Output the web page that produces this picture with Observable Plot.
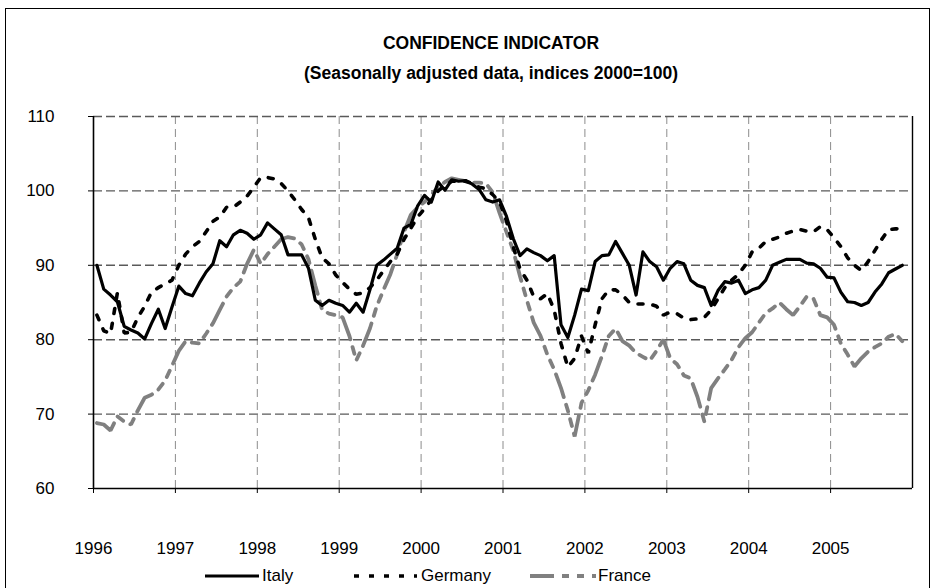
<!DOCTYPE html>
<html>
<head>
<meta charset="utf-8">
<script src="https://cdn.jsdelivr.net/npm/d3@7"></script>
<script src="https://cdn.jsdelivr.net/npm/@observablehq/plot@0.6"></script>
<style>
  html, body { margin: 0; padding: 0; background: #fff; }
  body { font-family: "Liberation Sans", Arial, sans-serif; color: #000; }
  #wrap { position: relative; width: 935px; height: 588px; overflow: hidden; }
  #border { position: absolute; left: 5px; top: 8px; width: 925px; height: 620px; border: 1px solid #000; box-sizing: border-box; }
  .title { position: absolute; left: 0; width: 982px; text-align: center; font-weight: bold; font-size: 17.5px; white-space: nowrap; }
  #t1 { top: 33px; }
  #t2 { top: 63px; }
  #chart { position: absolute; left: 0; top: 100px; }
  #legend { position: absolute; top: 566px; left: 0; width: 935px; height: 22px; font-size: 17px; }
  .lg { position: absolute; top: 0; display: flex; align-items: center; height: 20px; }
  .lg svg { display: block; }
</style>
</head>
<body>
<div id="wrap">
  <div id="border"></div>
  <div class="title" id="t1">CONFIDENCE INDICATOR</div>
  <div class="title" id="t2">(Seasonally adjusted data, indices 2000=100)</div>
  <div id="chart"></div>
  <div id="legend"></div>
</div>
<script>
// Monthly data, Jan 1996 .. Nov 2005
const startYear = 1996;
const italy = [
  90.0, 86.8, 86.0, 85.1, 81.8, 81.3, 80.9, 80.1, 82.2, 84.1, 81.5, 84.4,
  87.2, 86.2, 85.9, 87.6, 89.1, 90.2, 93.3, 92.5, 94.1, 94.7, 94.3, 93.5,
  94.1, 95.7, 94.9, 94.1, 91.4, 91.4, 91.4, 89.6, 85.3, 84.6, 85.3, 84.9,
  84.6, 83.7, 84.9, 83.7, 86.7, 90.0, 90.7, 91.5, 92.3, 95.0, 95.5, 98.0,
  99.4, 98.5, 101.2, 100.1, 101.5, 101.3, 101.4, 100.9, 100.2, 98.8, 98.5, 98.8,
  96.6, 93.6, 91.3, 92.2, 91.7, 91.3, 90.6, 91.3, 82.0, 80.3, 83.3, 86.8,
  86.6, 90.5, 91.3, 91.4, 93.2, 91.6, 90.0, 86.0, 91.8, 90.5, 89.8, 88.0,
  89.6, 90.5, 90.2, 88.0, 87.3, 87.0, 84.6, 86.6, 87.8, 87.6, 88.0, 86.2,
  86.7, 87.0, 88.0, 90.0, 90.4, 90.8, 90.8, 90.8, 90.3, 90.2, 89.6, 88.4,
  88.3, 86.4, 85.1, 85.0, 84.6, 85.0, 86.4, 87.5, 89.0, 89.5, 90.0
];
const germany = [
  83.3, 81.2, 80.8, 86.3, 80.9, 81.0, 83.0, 84.5, 86.4, 87.0, 87.5, 88.0,
  90.0, 91.5, 92.5, 93.2, 94.5, 95.9, 96.5, 97.8, 97.8, 98.5, 99.3, 100.5,
  101.8, 101.8, 101.6, 101.0, 100.0, 98.8, 97.5, 96.4, 93.5, 91.0, 90.2, 88.7,
  87.7, 86.8, 86.1, 86.3, 87.0, 88.0, 89.3, 90.5, 91.5, 93.5, 95.0, 96.5,
  97.6, 98.8, 100.0, 100.7, 101.3, 101.3, 101.3, 101.0, 100.5, 100.3, 99.5, 98.5,
  96.0, 92.5, 89.5, 88.0, 85.8, 85.5, 86.2, 84.0, 79.5, 76.3, 77.5, 80.5,
  78.2, 82.0, 85.5, 86.7, 86.7, 86.0, 85.0, 84.8, 84.8, 84.8, 84.5, 83.3,
  83.7, 83.5, 82.9, 82.7, 82.8, 83.0, 84.0, 85.5, 87.0, 88.0, 88.8, 90.0,
  91.8, 92.3, 93.2, 93.5, 93.8, 94.3, 94.6, 94.8, 94.6, 94.5, 95.2, 94.8,
  93.7, 92.5, 91.0, 90.0, 89.3, 90.5, 92.0, 93.5, 94.8, 94.9, 94.9
];
const france = [
  68.8, 68.6, 67.8, 69.7, 69.0, 68.6, 70.5, 72.2, 72.6, 73.3, 74.5, 76.5,
  78.5, 79.8, 79.6, 79.5, 80.8, 82.2, 84.0, 85.8, 87.0, 87.8, 90.2, 92.1,
  90.2, 91.5, 92.5, 93.5, 93.8, 93.6, 92.8, 90.8, 87.3, 84.0, 83.5, 83.3,
  83.0, 80.5, 77.2, 79.2, 81.5, 84.5, 86.7, 88.8, 91.5, 94.5, 96.8, 97.8,
  98.5, 99.5, 100.5, 101.2, 101.7, 101.5, 101.3, 101.1, 101.1, 101.0, 99.8, 97.0,
  94.5, 92.0, 88.5, 85.3, 82.3, 80.5, 78.0, 76.0, 73.5, 70.5, 67.0, 71.5,
  73.2, 75.3, 77.8, 80.5, 81.5, 79.8, 79.2, 78.2, 77.7, 77.2, 78.5, 80.0,
  77.5, 76.7, 75.2, 74.8, 72.3, 69.0, 73.5, 74.8, 76.0, 77.3, 79.0, 80.2,
  81.0, 82.3, 83.6, 84.2, 85.0, 84.1, 83.3, 84.5, 85.8, 85.5, 83.3, 83.0,
  82.0, 79.5, 78.0, 76.4, 77.5, 78.4, 79.0, 79.5, 80.4, 80.8, 79.8
];
const yearTicks = [1996, 1997, 1998, 1999, 2000, 2001, 2002, 2003, 2004, 2005];
const yTicks = [60, 70, 80, 90, 100, 110];
const seriesNames = ["Italy", "Germany", "France"];

// month i sits in the middle of its category slot
const toRows = (vals) => vals.map((v, i) => ({t: startYear + (i + 0.5) / 12, v}));

const styles = {
  Italy:   {stroke: "#000", strokeWidth: 3.2, strokeDasharray: null},
  Germany: {stroke: "#000", strokeWidth: 3.6, strokeDasharray: "5,10"},
  France:  {stroke: "#808080", strokeWidth: 3.8, strokeDasharray: "24,8,7,8,7,8"}
};

const chart = Plot.plot({
  width: 935,
  height: 470,
  marginLeft: 93,
  marginRight: 23,
  marginTop: 16,
  marginBottom: 82,
  style: {fontFamily: "Liberation Sans, Arial, sans-serif", fontSize: "17px", color: "#000", background: "transparent"},
  x: {domain: [1996, 2006]},
  y: {domain: [60, 110]},
  marks: [
    Plot.ruleX(yearTicks.slice(1), {stroke: "#8c8c8c", strokeWidth: 1, strokeDasharray: "8,5"}),
    Plot.ruleY(yTicks.slice(1), {stroke: "#5a5a5a", strokeWidth: 1.4, strokeDasharray: "9,4"}),
    Plot.ruleX([2006], {stroke: "#000", strokeWidth: 1.4}),
    Plot.axisY({ticks: yTicks, tickSize: 5, tickPadding: 34, tickFormat: d => String(d), label: null, fontSize: 17, stroke: "#000"}),
    Plot.axisX({ticks: yearTicks, tickSize: 5, tickPadding: 48, tickFormat: d => String(d), label: null, fontSize: 17, stroke: "#000"}),
    Plot.ruleX([1996], {stroke: "#000", strokeWidth: 1.6}),
    Plot.ruleY([60], {stroke: "#000", strokeWidth: 1.6}),
    Plot.line(toRows(france), {x: "t", y: "v", ...styles.France, strokeLinejoin: "miter"}),
    Plot.line(toRows(germany), {x: "t", y: "v", ...styles.Germany, strokeLinejoin: "miter"}),
    Plot.line(toRows(italy), {x: "t", y: "v", ...styles.Italy, strokeLinejoin: "round"})
  ]
});
document.getElementById("chart").appendChild(chart);

// legend
const legendPos = {Italy: [205, 54, 262], Germany: [354, 63, 421], France: [530, 66, 598]};
const legend = document.getElementById("legend");
for (const name of seriesNames) {
  const [x0, w, tx] = legendPos[name];
  const s = styles[name];
  const item = document.createElement("div");
  item.className = "lg";
  item.style.left = x0 + "px";
  item.innerHTML = `<svg width="${w}" height="20"><line x1="0" y1="10" x2="${w}" y2="10" stroke="${s.stroke}" stroke-width="${s.strokeWidth}" ${s.strokeDasharray ? `stroke-dasharray="${s.strokeDasharray}"` : ""}/></svg>`;
  legend.appendChild(item);
  const lab = document.createElement("div");
  lab.className = "lg";
  lab.style.left = tx + "px";
  lab.textContent = name;
  legend.appendChild(lab);
}
</script>
</body>
</html>
